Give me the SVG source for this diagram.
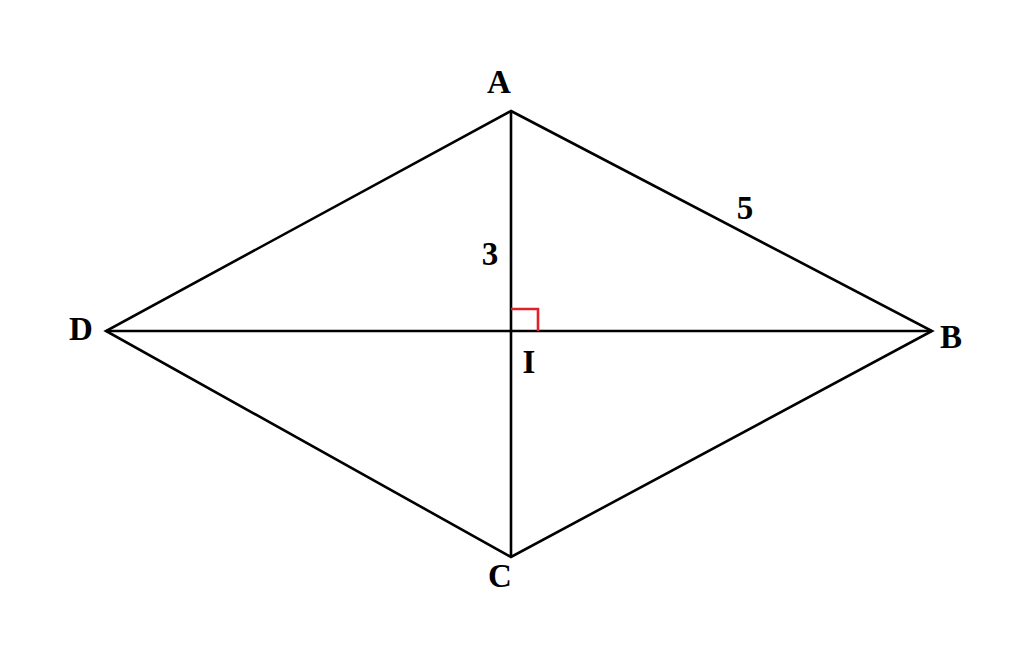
<svg xmlns="http://www.w3.org/2000/svg" width="1024" height="648" viewBox="0 0 1024 648">
<style>
.e{stroke:#000;stroke-width:2.6;fill:none;stroke-linejoin:miter}
.l{font-family:"Liberation Serif","Times New Roman",serif;font-weight:bold;font-size:33px;fill:#000}
</style>
<rect width="1024" height="648" fill="#fff"/>
<g id="connectors">
<polygon class="e" points="511,111 932,331 511,557 106,331"/>
<line class="e" x1="511" y1="111" x2="511" y2="557"/>
<line class="e" x1="106" y1="331" x2="932" y2="331"/>
<polyline points="511,309 538,309 538,331" fill="none" stroke="#e0202a" stroke-width="2.6"/>
</g>
<g id="A"><text class="l" x="499" y="93" text-anchor="middle">A</text></g>
<g id="B"><text class="l" x="951" y="348" text-anchor="middle">B</text></g>
<g id="C"><text class="l" x="500" y="587" text-anchor="middle">C</text></g>
<g id="D"><text class="l" x="81" y="340" text-anchor="middle">D</text></g>
<g id="I"><text class="l" x="529" y="373" text-anchor="middle">I</text></g>
<g id="label3"><text class="l" x="490" y="265" text-anchor="middle">3</text></g>
<g id="label5"><text class="l" x="745" y="219" text-anchor="middle">5</text></g>
</svg>
